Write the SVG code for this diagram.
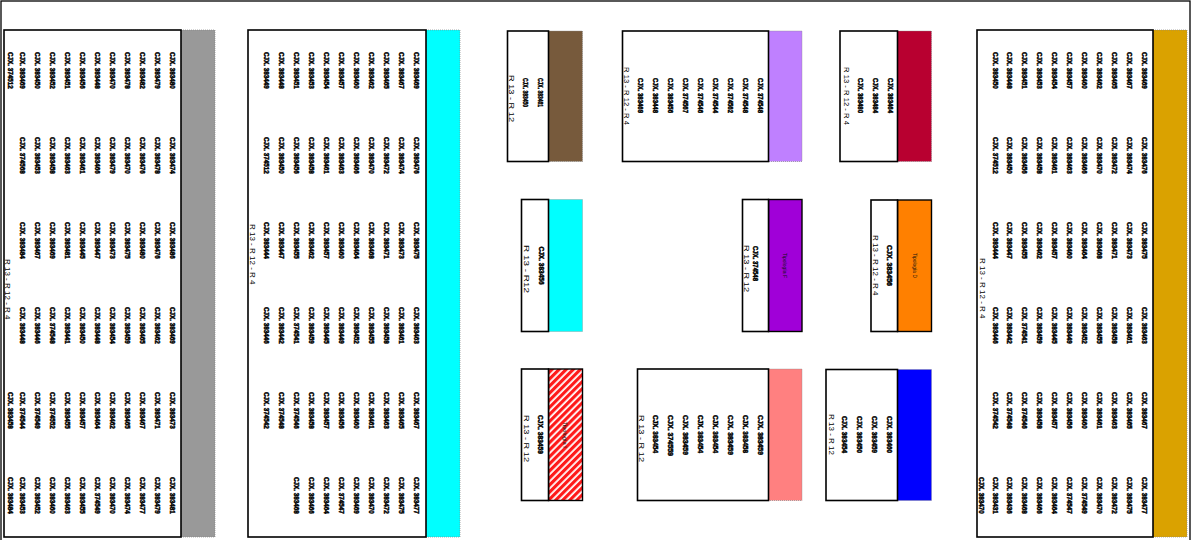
<svg xmlns="http://www.w3.org/2000/svg" width="1192" height="540" viewBox="0 0 1192 540">
<style>
.t{font-family:'Liberation Sans',Arial,sans-serif;font-weight:bold;font-size:6.3px;fill:#000;stroke:#000;stroke-width:0.45}
.l{font-family:'Liberation Sans',Arial,sans-serif;font-size:8px;fill:#000}
.s{font-family:'Liberation Sans',Arial,sans-serif;font-size:5px;fill:#111}
.w{fill:#fff;stroke:#000;stroke-width:1.6}
.c{stroke:#888;stroke-width:0.7;stroke-dasharray:1 1}
.k{stroke:#000;stroke-width:1.4}
</style>
<defs>
<pattern id="hatch" width="5" height="5" patternUnits="userSpaceOnUse" patternTransform="rotate(45)"><rect width="5" height="5" fill="#fff"/><rect width="3.2" height="5" fill="#ff1a1a"/></pattern>
</defs>
<rect width="1192" height="540" fill="#fff"/>
<rect x="1" y="1" width="1189" height="560" fill="none" stroke="#000" stroke-width="1.3"/>
<line x1="4" y1="115" x2="16" y2="115" stroke="#000" stroke-width="1.3"/>
<line x1="4" y1="369" x2="16" y2="369" stroke="#999" stroke-width="1.3"/>

<g id="rack-left">
<rect x="181" y="30" width="34" height="507" fill="#999" class="c"/>
<rect class="w" x="4" y="30" width="177" height="507"/>
<g class="t">
<g transform="translate(7.8,0) rotate(90)"><text x="52">CJX. 374512</text><text x="392">CJX. 383458</text><text x="477">CJX. 383484</text></g>
<g transform="translate(19.8,0) rotate(90)"><text x="52">CJX. 383469</text><text x="137">CJX. 374568</text><text x="222">CJX. 383484</text><text x="307">CJX. 383448</text><text x="392">CJX. 374544</text><text x="477">CJX. 383453</text></g>
<g transform="translate(34.8,0) rotate(90)"><text x="52">CJX. 383450</text><text x="137">CJX. 383453</text><text x="222">CJX. 383467</text><text x="307">CJX. 383446</text><text x="392">CJX. 374549</text><text x="477">CJX. 383452</text></g>
<g transform="translate(49.8,0) rotate(90)"><text x="52">CJX. 383452</text><text x="137">CJX. 383458</text><text x="222">CJX. 383469</text><text x="307">CJX. 374548</text><text x="392">CJX. 374552</text><text x="477">CJX. 383460</text></g>
<g transform="translate(64.8,0) rotate(90)"><text x="52">CJX. 383451</text><text x="137">CJX. 383463</text><text x="222">CJX. 383481</text><text x="307">CJX. 383441</text><text x="392">CJX. 383455</text><text x="477">CJX. 383463</text></g>
<g transform="translate(79.8,0) rotate(90)"><text x="52">CJX. 383456</text><text x="137">CJX. 383461</text><text x="222">CJX. 383445</text><text x="307">CJX. 383450</text><text x="392">CJX. 383457</text><text x="477">CJX. 383455</text></g>
<g transform="translate(94.8,0) rotate(90)"><text x="52">CJX. 383448</text><text x="137">CJX. 383466</text><text x="222">CJX. 383447</text><text x="307">CJX. 383448</text><text x="392">CJX. 383464</text><text x="477">CJX. 374549</text></g>
<g transform="translate(109.8,0) rotate(90)"><text x="52">CJX. 383470</text><text x="137">CJX. 383479</text><text x="222">CJX. 383473</text><text x="307">CJX. 383454</text><text x="392">CJX. 383462</text><text x="477">CJX. 383470</text></g>
<g transform="translate(124.8,0) rotate(90)"><text x="52">CJX. 383478</text><text x="137">CJX. 383470</text><text x="222">CJX. 383475</text><text x="307">CJX. 383459</text><text x="392">CJX. 383465</text><text x="477">CJX. 383474</text></g>
<g transform="translate(139.8,0) rotate(90)"><text x="52">CJX. 383482</text><text x="137">CJX. 383476</text><text x="222">CJX. 383480</text><text x="307">CJX. 383465</text><text x="392">CJX. 383467</text><text x="477">CJX. 383477</text></g>
<g transform="translate(154.8,0) rotate(90)"><text x="52">CJX. 383479</text><text x="137">CJX. 383478</text><text x="222">CJX. 383476</text><text x="307">CJX. 383462</text><text x="392">CJX. 383471</text><text x="477">CJX. 383479</text></g>
<g transform="translate(169.8,0) rotate(90)"><text x="52">CJX. 383480</text><text x="137">CJX. 383474</text><text x="222">CJX. 383486</text><text x="307">CJX. 383469</text><text x="392">CJX. 383473</text><text x="477">CJX. 383481</text></g>
</g>
<text class="l" transform="translate(4.8,259) rotate(90)">R 13 - R 12 - R 4</text>
</g>

<g id="rack-cyan">
<rect x="426" y="30" width="34" height="507" fill="#00ffff" class="c"/>
<rect class="w" x="248" y="30" width="178" height="507"/>
<g class="t">
<g transform="translate(264.3,0) rotate(90)"><text x="52">CJX. 383449</text><text x="137">CJX. 374512</text><text x="222">CJX. 383444</text><text x="307">CJX. 383446</text><text x="392">CJX. 374542</text></g>
<g transform="translate(279.3,0) rotate(90)"><text x="52">CJX. 383448</text><text x="137">CJX. 383450</text><text x="222">CJX. 383447</text><text x="307">CJX. 383442</text><text x="392">CJX. 374548</text></g>
<g transform="translate(294.3,0) rotate(90)"><text x="52">CJX. 383451</text><text x="137">CJX. 383456</text><text x="222">CJX. 383455</text><text x="307">CJX. 374541</text><text x="392">CJX. 374546</text><text x="477">CJX. 383468</text></g>
<g transform="translate(309.3,0) rotate(90)"><text x="52">CJX. 383453</text><text x="137">CJX. 383458</text><text x="222">CJX. 383462</text><text x="307">CJX. 383459</text><text x="392">CJX. 383458</text><text x="477">CJX. 383466</text></g>
<g transform="translate(324.3,0) rotate(90)"><text x="52">CJX. 383454</text><text x="137">CJX. 383461</text><text x="222">CJX. 383457</text><text x="307">CJX. 383445</text><text x="392">CJX. 383457</text><text x="477">CJX. 383464</text></g>
<g transform="translate(339.3,0) rotate(90)"><text x="52">CJX. 383457</text><text x="137">CJX. 383463</text><text x="222">CJX. 383460</text><text x="307">CJX. 383449</text><text x="392">CJX. 383456</text><text x="477">CJX. 374547</text></g>
<g transform="translate(354.3,0) rotate(90)"><text x="52">CJX. 383460</text><text x="137">CJX. 383466</text><text x="222">CJX. 383464</text><text x="307">CJX. 383452</text><text x="392">CJX. 383460</text><text x="477">CJX. 383469</text></g>
<g transform="translate(369.3,0) rotate(90)"><text x="52">CJX. 383462</text><text x="137">CJX. 383470</text><text x="222">CJX. 383468</text><text x="307">CJX. 383455</text><text x="392">CJX. 383461</text><text x="477">CJX. 383470</text></g>
<g transform="translate(384.3,0) rotate(90)"><text x="52">CJX. 383465</text><text x="137">CJX. 383472</text><text x="222">CJX. 383471</text><text x="307">CJX. 383458</text><text x="392">CJX. 383463</text><text x="477">CJX. 383472</text></g>
<g transform="translate(399.3,0) rotate(90)"><text x="52">CJX. 383467</text><text x="137">CJX. 383474</text><text x="222">CJX. 383473</text><text x="307">CJX. 383461</text><text x="392">CJX. 383465</text><text x="477">CJX. 383475</text></g>
<g transform="translate(414.3,0) rotate(90)"><text x="52">CJX. 383469</text><text x="137">CJX. 383476</text><text x="222">CJX. 383475</text><text x="307">CJX. 383463</text><text x="392">CJX. 383467</text><text x="477">CJX. 383477</text></g>
</g>
<text class="l" transform="translate(250.1,224) rotate(90)">R 13 - R 12 - R 4</text>
</g>

<g id="rack-gold">
<rect x="1153" y="30" width="34" height="507" fill="#daa200" class="c"/>
<rect class="w" x="977" y="30" width="176" height="507"/>
<g class="t">
<g transform="translate(979.3,0) rotate(90)"><text x="477">CJX. 383470</text></g>
<g transform="translate(993.3,0) rotate(90)"><text x="52">CJX. 383450</text><text x="137">CJX. 374512</text><text x="222">CJX. 383444</text><text x="307">CJX. 383446</text><text x="392">CJX. 374542</text><text x="477">CJX. 383431</text></g>
<g transform="translate(1007.3,0) rotate(90)"><text x="52">CJX. 383448</text><text x="137">CJX. 383450</text><text x="222">CJX. 383447</text><text x="307">CJX. 383442</text><text x="392">CJX. 374548</text><text x="477">CJX. 383436</text></g>
<g transform="translate(1022.3,0) rotate(90)"><text x="52">CJX. 383451</text><text x="137">CJX. 383456</text><text x="222">CJX. 383455</text><text x="307">CJX. 374541</text><text x="392">CJX. 374546</text><text x="477">CJX. 383468</text></g>
<g transform="translate(1037.3,0) rotate(90)"><text x="52">CJX. 383453</text><text x="137">CJX. 383458</text><text x="222">CJX. 383462</text><text x="307">CJX. 383459</text><text x="392">CJX. 383458</text><text x="477">CJX. 383466</text></g>
<g transform="translate(1052.3,0) rotate(90)"><text x="52">CJX. 383454</text><text x="137">CJX. 383461</text><text x="222">CJX. 383457</text><text x="307">CJX. 383445</text><text x="392">CJX. 383457</text><text x="477">CJX. 383464</text></g>
<g transform="translate(1067.3,0) rotate(90)"><text x="52">CJX. 383457</text><text x="137">CJX. 383463</text><text x="222">CJX. 383460</text><text x="307">CJX. 383449</text><text x="392">CJX. 383456</text><text x="477">CJX. 374547</text></g>
<g transform="translate(1082.3,0) rotate(90)"><text x="52">CJX. 383460</text><text x="137">CJX. 383466</text><text x="222">CJX. 383464</text><text x="307">CJX. 383452</text><text x="392">CJX. 383460</text><text x="477">CJX. 374549</text></g>
<g transform="translate(1097.3,0) rotate(90)"><text x="52">CJX. 383462</text><text x="137">CJX. 383470</text><text x="222">CJX. 383468</text><text x="307">CJX. 383455</text><text x="392">CJX. 383461</text><text x="477">CJX. 383470</text></g>
<g transform="translate(1112.3,0) rotate(90)"><text x="52">CJX. 383465</text><text x="137">CJX. 383472</text><text x="222">CJX. 383471</text><text x="307">CJX. 383458</text><text x="392">CJX. 383463</text><text x="477">CJX. 383472</text></g>
<g transform="translate(1127.3,0) rotate(90)"><text x="52">CJX. 383467</text><text x="137">CJX. 383474</text><text x="222">CJX. 383473</text><text x="307">CJX. 383461</text><text x="392">CJX. 383465</text><text x="477">CJX. 383475</text></g>
<g transform="translate(1142.3,0) rotate(90)"><text x="52">CJX. 383469</text><text x="137">CJX. 383476</text><text x="222">CJX. 383475</text><text x="307">CJX. 383463</text><text x="392">CJX. 383467</text><text x="477">CJX. 383477</text></g>
</g>
<text class="l" transform="translate(980.1,258) rotate(90)">R 13 - R 12 - R 4</text>
</g>

<g id="box-brown">
<rect x="548.5" y="31" width="34" height="130.5" fill="#775a3c" class="c"/>
<rect class="w" x="507.5" y="31" width="41" height="130.5"/>
<text class="t" transform="translate(522.8,78) rotate(90)" textLength="29" lengthAdjust="spacingAndGlyphs">CJX. 383450</text>
<text class="t" transform="translate(537.8,78) rotate(90)" textLength="29" lengthAdjust="spacingAndGlyphs">CJX. 383461</text>
<text class="l" transform="translate(508.6,75) rotate(90)" textLength="47" lengthAdjust="spacingAndGlyphs">R 13 - R 12</text>
</g>

<g id="box-lavender">
<rect x="768.5" y="31" width="33.5" height="130.5" fill="#bf80ff" class="c"/>
<rect class="w" x="622.5" y="31" width="146" height="130.5"/>
<g class="t">
<text transform="translate(637.8,78) rotate(90)" textLength="35" lengthAdjust="spacingAndGlyphs">CJX. 383469</text>
<text transform="translate(652.8,78) rotate(90)" textLength="35" lengthAdjust="spacingAndGlyphs">CJX. 383448</text>
<text transform="translate(667.8,78) rotate(90)" textLength="35" lengthAdjust="spacingAndGlyphs">CJX. 383456</text>
<text transform="translate(682.8,78) rotate(90)" textLength="35" lengthAdjust="spacingAndGlyphs">CJX. 374567</text>
<text transform="translate(697.8,78) rotate(90)" textLength="35" lengthAdjust="spacingAndGlyphs">CJX. 374546</text>
<text transform="translate(712.8,78) rotate(90)" textLength="35" lengthAdjust="spacingAndGlyphs">CJX. 374544</text>
<text transform="translate(727.8,78) rotate(90)" textLength="35" lengthAdjust="spacingAndGlyphs">CJX. 374562</text>
<text transform="translate(742.8,78) rotate(90)" textLength="35" lengthAdjust="spacingAndGlyphs">CJX. 374548</text>
<text transform="translate(757.8,78) rotate(90)" textLength="35" lengthAdjust="spacingAndGlyphs">CJX. 374548</text>
</g>
<text class="l" transform="translate(623.6,67) rotate(90)" textLength="58" lengthAdjust="spacingAndGlyphs">R 13 - R 12 - R 4</text>
</g>

<g id="box-crimson">
<rect x="897.5" y="31" width="34" height="130.5" fill="#b80030" class="c"/>
<rect class="w" x="840" y="31" width="57.5" height="130.5"/>
<text class="t" transform="translate(857.8,78) rotate(90)" textLength="35" lengthAdjust="spacingAndGlyphs">CJX. 383480</text>
<text class="t" transform="translate(872.8,78) rotate(90)" textLength="35" lengthAdjust="spacingAndGlyphs">CJX. 383484</text>
<text class="t" transform="translate(887.8,78) rotate(90)" textLength="35" lengthAdjust="spacingAndGlyphs">CJX. 383464</text>
<text class="l" transform="translate(843.6,67) rotate(90)" textLength="58" lengthAdjust="spacingAndGlyphs">R 13 - R 12 - R 4</text>
</g>

<g id="box-cyan-small">
<rect x="548.5" y="199.5" width="34" height="132" fill="#00ffff" class="c"/>
<rect class="w" x="521.5" y="199.5" width="27" height="132"/>
<text class="t" transform="translate(539.3,246.5) rotate(90)" textLength="38" lengthAdjust="spacingAndGlyphs">CJX. 383456</text>
<text class="l" transform="translate(523.6,245) rotate(90)" textLength="48" lengthAdjust="spacingAndGlyphs">R 13 - R12</text>
</g>

<g id="box-purple">
<rect x="768.5" y="199.5" width="33.5" height="132" fill="#a000d8" class="k"/>
<rect class="w" x="742.5" y="199.5" width="26" height="132"/>
<text class="t" transform="translate(753.3,246) rotate(90)" textLength="35" lengthAdjust="spacingAndGlyphs">CJX. 374548</text>
<text class="l" transform="translate(743.6,245) rotate(90)" textLength="47" lengthAdjust="spacingAndGlyphs">R 13 - R 12</text>
<text class="s" transform="translate(783.2,253) rotate(90)" textLength="25" lengthAdjust="spacingAndGlyphs">Tipología F</text>
</g>

<g id="box-orange">
<rect x="897.5" y="200" width="34" height="131.5" fill="#ff8000" class="k"/>
<rect class="w" x="871" y="200" width="26.5" height="131.5"/>
<text class="t" transform="translate(887.3,245) rotate(90)" textLength="41" lengthAdjust="spacingAndGlyphs">CJX. 383456</text>
<text class="l" transform="translate(873.1,235) rotate(90)">R 13 - R 12 - R 4</text>
<text class="s" transform="translate(913.2,253) rotate(90)" textLength="25" lengthAdjust="spacingAndGlyphs">Tipología D</text>
</g>

<g id="box-hatched">
<rect x="548.5" y="369" width="34" height="131.5" fill="url(#hatch)" class="k"/>
<rect class="w" x="521.5" y="369" width="27" height="131.5"/>
<text class="t" transform="translate(537.8,415) rotate(90)" textLength="39" lengthAdjust="spacingAndGlyphs">CJX. 383459</text>
<text class="l" transform="translate(523.6,415) rotate(90)" textLength="47" lengthAdjust="spacingAndGlyphs">R 13 - R 12</text>
<text class="s" transform="translate(563.2,421.7) rotate(90)" textLength="26" lengthAdjust="spacingAndGlyphs">Tipología I</text>
</g>

<g id="box-pink">
<rect x="768.5" y="369" width="33.5" height="131.5" fill="#ff8080" class="c"/>
<rect class="w" x="637.5" y="369" width="131" height="131.5"/>
<g class="t">
<text transform="translate(652.8,415) rotate(90)" textLength="38" lengthAdjust="spacingAndGlyphs">CJX. 383454</text>
<text transform="translate(667.8,415) rotate(90)" textLength="41" lengthAdjust="spacingAndGlyphs">CJX. 374559</text>
<text transform="translate(682.8,415) rotate(90)" textLength="40" lengthAdjust="spacingAndGlyphs">CJX. 383459</text>
<text transform="translate(697.8,415) rotate(90)" textLength="38" lengthAdjust="spacingAndGlyphs">CJX. 383454</text>
<text transform="translate(712.8,415) rotate(90)" textLength="38" lengthAdjust="spacingAndGlyphs">CJX. 383454</text>
<text transform="translate(727.8,415) rotate(90)" textLength="40" lengthAdjust="spacingAndGlyphs">CJX. 383459</text>
<text transform="translate(742.8,415) rotate(90)" textLength="38" lengthAdjust="spacingAndGlyphs">CJX. 383458</text>
<text transform="translate(757.8,415) rotate(90)" textLength="40" lengthAdjust="spacingAndGlyphs">CJX. 383459</text>
</g>
<text class="l" transform="translate(638.6,415) rotate(90)" textLength="47" lengthAdjust="spacingAndGlyphs">R 13 - R 12</text>
</g>

<g id="box-blue">
<rect x="897.5" y="369.5" width="34" height="131" fill="#0000ff" class="c"/>
<rect class="w" x="826" y="369.5" width="71.5" height="131"/>
<text class="t" transform="translate(841.8,416) rotate(90)" textLength="37" lengthAdjust="spacingAndGlyphs">CJX. 383454</text>
<text class="t" transform="translate(856.8,416) rotate(90)" textLength="37" lengthAdjust="spacingAndGlyphs">CJX. 383450</text>
<text class="t" transform="translate(871.8,416) rotate(90)" textLength="37" lengthAdjust="spacingAndGlyphs">CJX. 383459</text>
<text class="t" transform="translate(886.8,416) rotate(90)" textLength="37" lengthAdjust="spacingAndGlyphs">CJX. 383460</text>
<text class="l" transform="translate(828.6,414) rotate(90)" textLength="41" lengthAdjust="spacingAndGlyphs">R 13 - R 12</text>
</g>

<g id="connectors"></g>
</svg>
